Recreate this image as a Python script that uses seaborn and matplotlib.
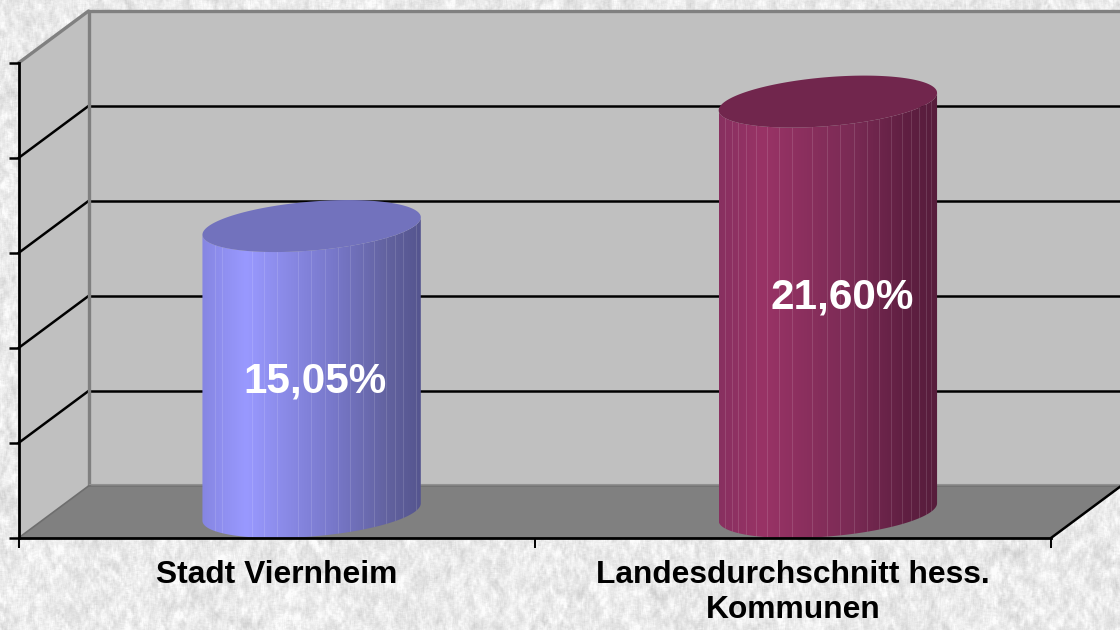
import numpy as np
import pandas as pd
import matplotlib
matplotlib.use("Agg")
import matplotlib.pyplot as plt
from matplotlib.colors import LinearSegmentedColormap
from matplotlib.patches import Polygon
from matplotlib.transforms import Affine2D
import seaborn as sns

categories = ["Stadt Viernheim", "Landesdurchschnitt hess.\nKommunen"]
values = [15.05, 21.60]
value_labels = ["15,05%", "21,60%"]
y_ticks = [0, 5, 10, 15, 20, 25]

# styling only
top_colors = ["#7272BD", "#71264D"]
side_colors = [
    [(0, "#8686E2"), (.2, "#9999FF"), (.6, "#7878CA"), (.85, "#62629F"), (1, "#55558F")],
    [(0, "#883060"), (.2, "#993366"), (.6, "#7B2B55"), (.85, "#601F42"), (1, "#571D3C")],
]
facets = [
    [.057, .09, .225, .28, .34, .436, .495, .56, .62, .676, .737, .787, .84, .88, .92, .976],
    [.031, .061, .089, .126, .172, .222, .276, .334, .429, .494, .555, .618, .68, .736, .79,
     .839, .882, .917, .951, .974],
]
label_pos = [(0.007, 6.87), (0.027, 11.27)]  # offset in categories, height on the scale

sns.set_theme(style="white")
plt.rcParams["font.family"] = ["Liberation Sans", "DejaVu Sans"]
W, H = 1120, 630
fig = plt.figure(figsize=(W / 100, H / 100), dpi=100)

# mottled stone background
rng = np.random.default_rng(7)
noise = rng.normal(size=(H + 8, W + 8))
k1 = np.ones(3) / 3
k2 = np.ones(5) / 5
fine = np.apply_along_axis(lambda r: np.convolve(r, k1, "same"), 1, noise)
fine = np.apply_along_axis(lambda c: np.convolve(c, k2, "same"), 0, fine)
coarse = np.apply_along_axis(lambda r: np.convolve(r, np.ones(9) / 9, "same"), 1, noise)
coarse = np.apply_along_axis(lambda c: np.convolve(c, np.ones(13) / 13, "same"), 0, coarse)
tex = 234 + 22 * fine + 34 * coarse
tex = np.clip(tex[4:-4, 4:-4], 175, 252) / 255
bg = fig.add_axes([0, 0, 1, 1], zorder=0)
bg.imshow(tex, cmap="gray", vmin=0, vmax=1, aspect="auto", interpolation="bilinear")
bg.set_axis_off()

# front plane of the plot box, in pixels
X0, X1, Y0, Y1 = 18.5, 1051, 538, 63
ax = fig.add_axes([X0 / W, (H - Y0) / H, (X1 - X0) / W, (Y0 - Y1) / H], zorder=1)
ax.patch.set_alpha(0)

df = pd.DataFrame({"category": categories, "value": values})
sns.barplot(data=df, x="category", y="value", hue="category", palette=top_colors,
            legend=False, width=0.423, ax=ax)
bars = sorted([b for c in ax.containers for b in c], key=lambda p: p.get_x())
ax.set_xlim(-0.5, 1.5)
ax.set_ylim(y_ticks[0], y_ticks[-1])
ax.set_xlabel("")
ax.set_ylabel("")

DX, DY = 70, 52
fig.canvas.draw()
back = ax.transData + Affine2D().translate(DX, DY)
mid = ax.transData + Affine2D().translate(DX / 2, DY / 2)
front = ax.transData
top = y_ticks[-1]

# walls and floor
ax.add_patch(Polygon([(-.5, 0), (1.5, 0), (1.5, top), (-.5, top)], closed=True, transform=back,
                     fc="#C0C0C0", ec="none", clip_on=False, zorder=.1))
p0b = back.transform((-.5, 0)); p1b = back.transform((-.5, top))
p0f = front.transform((-.5, 0)); p1f = front.transform((-.5, top))
inv = ax.transData.inverted()
ax.add_patch(Polygon(inv.transform([p0f, p0b, p1b, p1f]), closed=True, fc="#C0C0C0", ec="none",
                     clip_on=False, zorder=.1))
for v in y_ticks[1:-1]:
    ax.plot([-.5, 1.5], [v, v], transform=back, color="black", lw=1.8, clip_on=False, zorder=.3)
    a, b = front.transform((-.5, v)), back.transform((-.5, v))
    ax.plot(*inv.transform([a, b]).T, color="black", lw=1.8, clip_on=False, zorder=.3)
# gray frame
ax.plot([-.5, -.5], [0, top], transform=back, color="#808080", lw=2.4, clip_on=False, zorder=.35)
ax.plot([-.5, 1.5], [top, top], transform=back, color="#808080", lw=2.4, clip_on=False, zorder=.35)
ax.plot(*inv.transform([p1f, p1b]).T, color="#808080", lw=2.4, clip_on=False, zorder=.35)
# floor
f_r = front.transform((1.5, 0)); b_r = back.transform((1.5, 0))
ax.add_patch(Polygon(inv.transform([p0f, p0b, b_r, f_r]), closed=True, fc="#808080", ec="none",
                     clip_on=False, zorder=.4))
ax.plot(*inv.transform([p0f, p0b]).T, color="#6E6E6E", lw=1.2, clip_on=False, zorder=.45)
ax.plot([-.5, 1.5], [0, 0], transform=back, color="#707070", lw=1.1, clip_on=False, zorder=.45)
ax.plot([-.5, 1.5], [.13, .13], transform=back, color="#909090", lw=.8, clip_on=False, zorder=.45)
ax.plot(*inv.transform([f_r, b_r]).T, color="black", lw=1.8, clip_on=False, zorder=.45)

# cylinders, from the bar geometry seaborn laid out
px_y = (Y0 - Y1) / top
t = np.linspace(0, 2 * np.pi, 241)
for i, bar in enumerate(bars):
    bar.set_visible(False)
    x0, w, h = bar.get_x(), bar.get_width(), bar.get_height()
    cx = x0 + w / 2
    ex = cx - (w / 2) * np.cos(t)
    ey = (-8.7 * np.cos(t) - 24.5 * np.sin(t)) / px_y  # left end low, right end high
    low_t = np.linspace(0, np.pi, 121)
    lx = cx - (w / 2) * np.cos(low_t)
    ly = (-8.7 * np.cos(low_t) - 24.5 * np.sin(low_t)) / px_y
    body = np.r_[np.c_[lx, ly], np.c_[lx[::-1], h + ly[::-1]]]
    clip = Polygon(body, closed=True, transform=mid, fc="none", ec="none")
    ax.add_patch(clip)
    cmap = LinearSegmentedColormap.from_list(f"c{i}", side_colors[i], N=256)
    im = ax.imshow(np.linspace(0, 1, 256)[None, :], cmap=cmap, aspect="auto",
                   extent=(x0, x0 + w, -2, h + 2), transform=mid, zorder=2,
                   interpolation="bilinear")
    im.set_clip_path(clip)
    for f in facets[i]:
        ln, = ax.plot([x0 + f * w] * 2, [-2, h + 2], transform=mid, color="white", alpha=.13,
                      lw=.7, zorder=2.1)
        ln.set_clip_path(clip)
    ax.add_patch(Polygon(np.c_[ex, h + ey], closed=True, transform=mid, fc=top_colors[i],
                         ec="none", zorder=2.2, clip_on=False))
    dx, ly0 = label_pos[i]
    ax.text(cx + dx, ly0, value_labels[i], transform=mid, color="white", fontsize=30.4,
            fontweight="bold", ha="center", va="center", zorder=3, clip_on=False)

ax.set_xlim(-0.5, 1.5)
ax.set_ylim(y_ticks[0], y_ticks[-1])

# axes
sns.despine(ax=ax, top=True, right=True)
for s in ("left", "bottom"):
    ax.spines[s].set_color("black")
    ax.spines[s].set_linewidth(2.0)
    ax.spines[s].set_zorder(4)
ax.set_yticks(y_ticks)
ax.set_yticklabels([])
ax.tick_params(axis="y", which="major", left=True, length=7, width=1.8, color="black")
ax.set_xticks([0, 1])
ax.set_xticklabels(categories, fontsize=22.9, fontweight="bold", color="black", linespacing=1.22)
ax.set_xticks([-.5, .5, 1.5], minor=True)
ax.tick_params(axis="x", which="major", bottom=False, pad=10)
ax.tick_params(axis="x", which="minor", bottom=True, length=7, width=1.4, color="black")

fig.savefig("out.png", dpi=100)
